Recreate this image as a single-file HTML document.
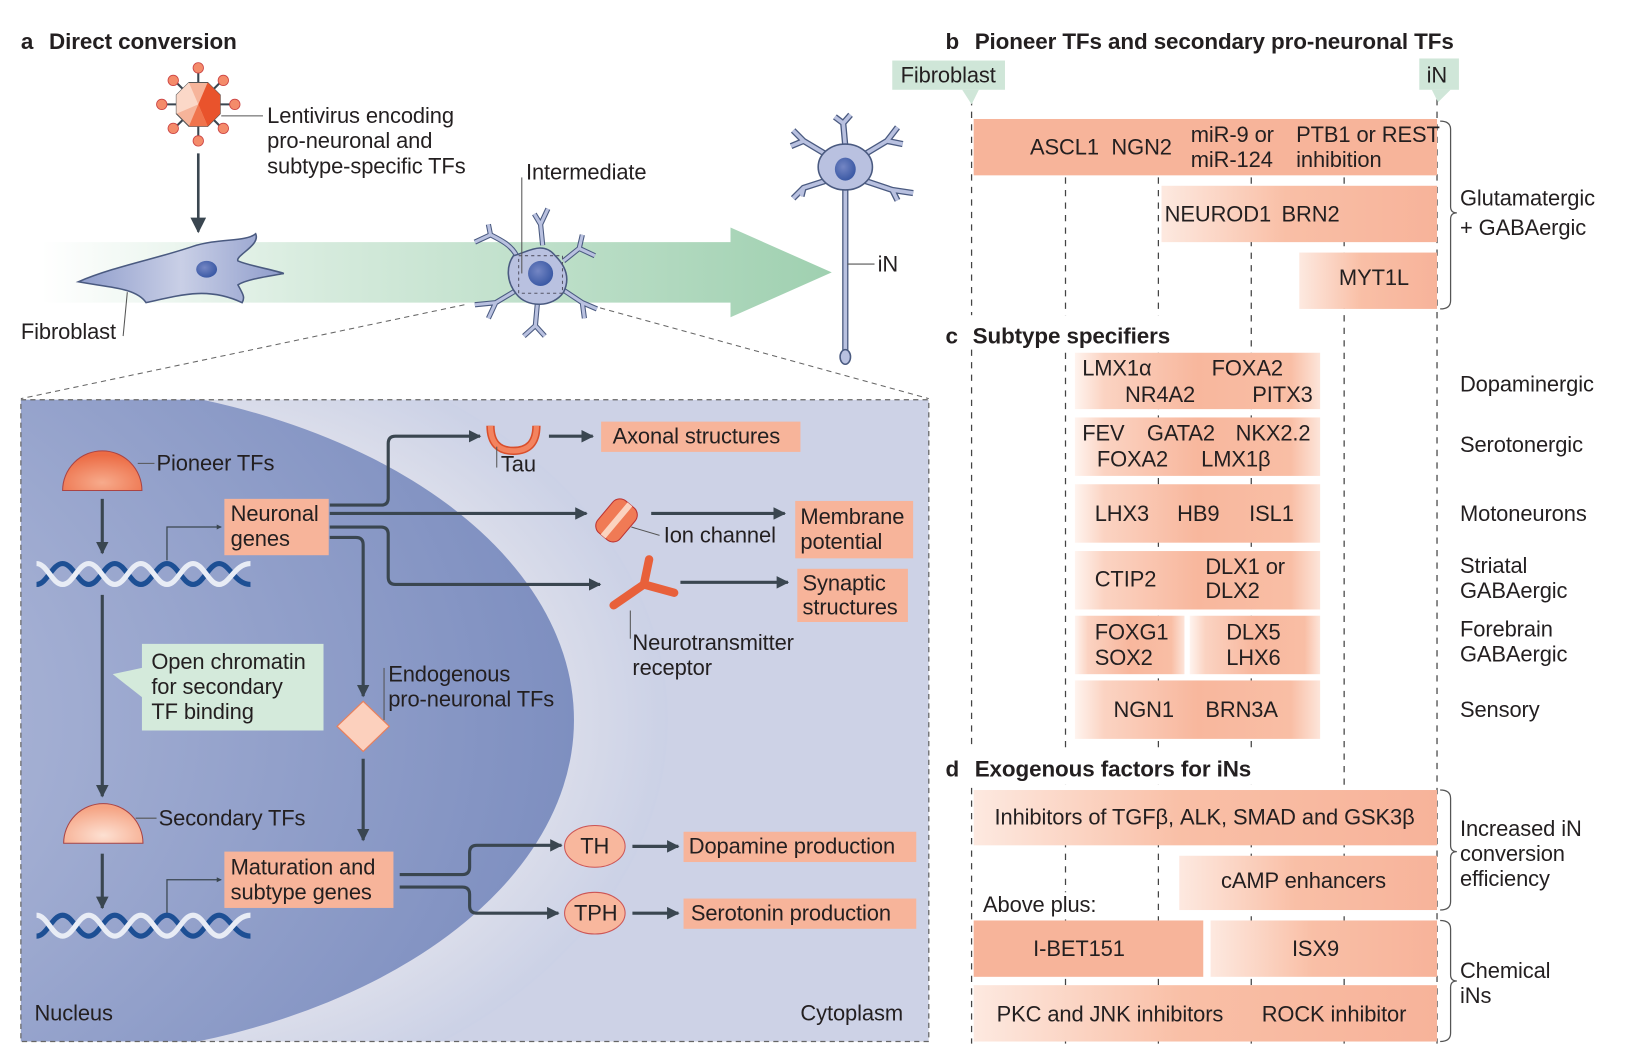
<!DOCTYPE html>
<html><head><meta charset="utf-8"><style>
html,body{margin:0;padding:0;background:#fff;overflow:hidden;width:1628px;height:1062px;}
svg{display:block;}
text{font-family:"Liberation Sans",sans-serif;font-size:21px;fill:#231f20;letter-spacing:-0.1px;}
.b{font-weight:bold;font-size:21.5px;}
</style></head><body>
<svg width="1628" height="1062" viewBox="0 0 1560 1017.6" xmlns="http://www.w3.org/2000/svg">
<defs>
<linearGradient id="grn" x1="0" x2="1"><stop offset="0" stop-color="#fff"/><stop offset="0.35" stop-color="#d6ebdd"/><stop offset="1" stop-color="#9fd0b0"/></linearGradient>
<linearGradient id="sal" x1="0" x2="1"><stop offset="0" stop-color="#fde9e0"/><stop offset="0.45" stop-color="#f9bfa6"/><stop offset="1" stop-color="#f7b39a"/></linearGradient>
<linearGradient id="sal2" x1="0" x2="1"><stop offset="0" stop-color="#fff4ef"/><stop offset="0.12" stop-color="#fbd3c2"/><stop offset="0.5" stop-color="#f8b79d"/><stop offset="0.88" stop-color="#f9bea5"/><stop offset="1" stop-color="#fde5da"/></linearGradient>
<linearGradient id="cell" x1="0" x2="1"><stop offset="0" stop-color="#8e9ccb"/><stop offset="0.5" stop-color="#c9cfe6"/><stop offset="1" stop-color="#8e9ccb"/></linearGradient>
<radialGradient id="nuc" cx="0" cy="0.5" r="1"><stop offset="0" stop-color="#c9cfe6"/><stop offset="1" stop-color="#7e8fc0"/></radialGradient>
<radialGradient id="cyto" cx="0.5" cy="0.5" r="0.5"><stop offset="0.7" stop-color="#e2e3ec"/><stop offset="1" stop-color="#cbd1e6"/></radialGradient>
<radialGradient id="dome" cx="0.5" cy="0.8" r="0.7"><stop offset="0" stop-color="#f7ab8c"/><stop offset="1" stop-color="#ec6c45"/></radialGradient>
<radialGradient id="dome2" cx="0.5" cy="0.8" r="0.7"><stop offset="0" stop-color="#fde0d2"/><stop offset="1" stop-color="#f5a484"/></radialGradient>
<radialGradient id="nb" cx="0.4" cy="0.4" r="0.6"><stop offset="0" stop-color="#7486c4"/><stop offset="1" stop-color="#3c5aa5"/></radialGradient>
<marker id="ah" viewBox="0 0 10 10" refX="9" refY="5" markerWidth="4" markerHeight="4" orient="auto"><path d="M0,0 L10,5 L0,10 z" fill="#3a4650"/></marker>
<marker id="ahs" viewBox="0 0 10 10" refX="9" refY="5" markerWidth="6" markerHeight="6" orient="auto"><path d="M0,0 L10,5 L0,10 z" fill="#3a4650"/></marker>
<clipPath id="panel"><rect x="20" y="383" width="870" height="615"/></clipPath>
</defs>

<text x="20" y="47" class="b">a</text><text x="47" y="47" class="b">Direct conversion</text>

<path d="M40,232 H700 V218 L797,261 L700,304 V290 H40 Z" fill="url(#grn)"/>

<g stroke="#3a4650" stroke-width="2">
<line x1="190" y1="65" x2="190" y2="135"/><line x1="155" y1="100" x2="225" y2="100"/>
<line x1="166" y1="76" x2="214" y2="124"/><line x1="214" y1="76" x2="166" y2="124"/>
</g>
<g fill="#f48b6a" stroke="#c44" stroke-width="0.8">
<circle cx="190" cy="65" r="5"/><circle cx="190" cy="135" r="5"/><circle cx="155" cy="100" r="5"/><circle cx="225" cy="100" r="5"/>
<circle cx="166" cy="77" r="5"/><circle cx="214" cy="77" r="5"/><circle cx="166" cy="123" r="5"/><circle cx="214" cy="123" r="5"/>
</g>
<polygon points="181,79 199,79 211,91 211,109 199,121 181,121 169,109 169,91" fill="#f6b49a" stroke="#555" stroke-width="1"/>
<polygon points="199,79 211,91 211,109 199,121 190,100" fill="#e9532c"/>
<polygon points="181,121 199,121 190,100" fill="#f0744c"/>
<polygon points="169,91 181,79 190,100 169,109" fill="#fbd8c8"/>
<line x1="212" y1="111" x2="252" y2="111" stroke="#555" stroke-width="1"/>
<text x="256" y="118">Lentivirus encoding</text>
<text x="256" y="142">pro-neuronal and</text>
<text x="256" y="166">subtype-specific TFs</text>
<line x1="190" y1="147" x2="190" y2="222" stroke="#3a4650" stroke-width="2.5" marker-end="url(#ahs)"/>

<path d="M75,270 C110,255 150,248 185,236 C210,228 235,232 245,224 C250,235 225,245 228,250 C240,255 260,258 272,262 C255,265 235,268 228,273 C233,282 235,285 232,290 C200,275 175,282 140,290 C130,275 100,275 75,270 Z" fill="url(#cell)" stroke="#4a5a80" stroke-width="1.5"/>
<ellipse cx="198" cy="258" rx="10" ry="8" fill="url(#nb)"/>
<line x1="118" y1="322" x2="122" y2="280" stroke="#555" stroke-width="1"/>
<text x="20" y="325">Fibroblast</text>

<g stroke="#4a5a80" stroke-width="5" fill="none">
<path d="M495,245 C490,235 480,230 470,225 M470,225 L455,232 M470,225 L468,215"/>
<path d="M520,235 L518,215 L512,205 M518,215 L525,200"/>
<path d="M540,250 L555,238 L558,225 M555,238 L570,245"/>
<path d="M540,278 L558,290 L572,296 M558,290 L560,305"/>
<path d="M515,290 L513,312 L502,322 M513,312 L522,322"/>
<path d="M495,278 L475,290 L455,292 M475,290 L468,305"/>
</g>
<g fill="none" stroke="#b9c1e0" stroke-width="3">
<path d="M495,245 C490,235 480,230 470,225 M470,225 L455,232 M470,225 L468,215"/>
<path d="M520,235 L518,215 L512,205 M518,215 L525,200"/>
<path d="M540,250 L555,238 L558,225 M555,238 L570,245"/>
<path d="M540,278 L558,290 L572,296 M558,290 L560,305"/>
<path d="M515,290 L513,312 L502,322 M513,312 L522,322"/>
<path d="M495,278 L475,290 L455,292 M475,290 L468,305"/>
</g>
<path d="M492,245 C505,242 520,230 532,245 C545,258 545,270 540,280 C530,295 505,295 495,282 C485,270 485,255 492,245 Z" fill="#b9c1e0" stroke="#4a5a80" stroke-width="1.5"/>
<rect x="497" y="245" width="42" height="36" fill="none" stroke="#556" stroke-dasharray="3,3" stroke-width="1"/>
<ellipse cx="518" cy="262" rx="12" ry="12" fill="url(#nb)"/>
<line x1="500" y1="170" x2="500" y2="262" stroke="#555" stroke-width="1"/>
<text x="504" y="172">Intermediate</text>

<g fill="none" stroke="#4a5a80" stroke-width="6">
<path d="M795,150 L770,135 L760,125 M770,135 L758,140"/>
<path d="M810,140 L808,118 L800,112 M808,118 L815,110"/>
<path d="M825,150 L850,135 L860,122 M850,135 L865,138"/>
<path d="M825,172 L855,182 L875,185 M855,182 L860,192"/>
<path d="M795,172 L770,180 L760,190 M770,180 L768,188"/>
<path d="M810,180 L810,340"/>
</g>
<g fill="none" stroke="#b9c1e0" stroke-width="3.5">
<path d="M795,150 L770,135 L760,125 M770,135 L758,140"/>
<path d="M810,140 L808,118 L800,112 M808,118 L815,110"/>
<path d="M825,150 L850,135 L860,122 M850,135 L865,138"/>
<path d="M825,172 L855,182 L875,185 M855,182 L860,192"/>
<path d="M795,172 L770,180 L760,190 M770,180 L768,188"/>
<path d="M810,180 L810,340"/>
</g>
<ellipse cx="810" cy="160" rx="26" ry="22" fill="#b9c1e0" stroke="#4a5a80" stroke-width="1.5"/>
<ellipse cx="810" cy="162" rx="10" ry="11" fill="url(#nb)"/>
<ellipse cx="810" cy="342" rx="5" ry="7" fill="#b9c1e0" stroke="#4a5a80" stroke-width="1.5"/>
<line x1="812" y1="253" x2="838" y2="253" stroke="#555" stroke-width="1"/>
<text x="841" y="260">iN</text>

<line x1="445" y1="292" x2="20" y2="382" stroke="#666" stroke-dasharray="5,4" stroke-width="1"/>
<line x1="575" y1="295" x2="890" y2="382" stroke="#666" stroke-dasharray="5,4" stroke-width="1"/>

<g clip-path="url(#panel)">
<rect x="20" y="383" width="870" height="615" fill="#cdd2e6"/>
<ellipse cx="120" cy="690" rx="520" ry="380" fill="url(#cyto)"/>
<ellipse cx="20" cy="690" rx="530" ry="325" fill="url(#nuc)"/>
</g>
<rect x="20" y="383" width="870" height="615" fill="none" stroke="#666" stroke-dasharray="5,4" stroke-width="1.2"/>

<g stroke="#3a4650" stroke-width="3" fill="none">
<line x1="98" y1="478" x2="98" y2="530" marker-end="url(#ah)"/>
<line x1="98" y1="570" x2="98" y2="763" marker-end="url(#ah)"/>
<line x1="98" y1="818" x2="98" y2="870" marker-end="url(#ah)"/>
<path d="M316,484 H365 Q372,484 372,477 V425 Q372,418 379,418 H460" marker-end="url(#ah)"/>
<line x1="316" y1="492" x2="562" y2="492" marker-end="url(#ah)"/>
<path d="M316,505 H365 Q372,505 372,512 V553 Q372,560 379,560 H575" marker-end="url(#ah)"/>
<path d="M316,515 H341 Q348,515 348,522 V667" marker-end="url(#ah)"/>
<line x1="348" y1="727" x2="348" y2="805" marker-end="url(#ah)"/>
<line x1="526" y1="418" x2="568" y2="418" marker-end="url(#ah)"/>
<line x1="624" y1="492" x2="752" y2="492" marker-end="url(#ah)"/>
<line x1="652" y1="558" x2="755" y2="558" marker-end="url(#ah)"/>
<path d="M383,838 H443 Q450,838 450,831 V817 Q450,810 457,810 H538" marker-end="url(#ah)"/>
<path d="M383,850 H443 Q450,850 450,857 V868 Q450,875 457,875 H535" marker-end="url(#ah)"/>
<line x1="606" y1="811" x2="650" y2="811" marker-end="url(#ah)"/>
<line x1="606" y1="875" x2="650" y2="875" marker-end="url(#ah)"/>
</g>
<g stroke="#3a4650" stroke-width="1.2" fill="none">
<path d="M160,537 V505 H212" marker-end="url(#ah)"/>
<path d="M160,877 V843 H212" marker-end="url(#ah)"/>
</g>

<path d="M60,470 A38,38 0 0 1 136,470 Z" fill="url(#dome)" stroke="#a44" stroke-width="1"/>
<line x1="132" y1="444" x2="148" y2="444" stroke="#555" stroke-width="1"/>
<text x="150" y="451">Pioneer TFs</text>
<path d="M61,808 A38,38 0 0 1 137,808 Z" fill="url(#dome2)" stroke="#a44" stroke-width="1"/>
<line x1="130" y1="784" x2="150" y2="784" stroke="#555" stroke-width="1"/>
<text x="152" y="791">Secondary TFs</text>

<g fill="none" stroke-width="5">
<path d="M35,560 C45,560 50,540 60,540 S75,560 85,560 S100,540 110,540 S125,560 135,560 S150,540 160,540 S175,560 185,560 S200,540 210,540 S225,560 240,560" stroke="#1d4f94"/>
<path d="M35,540 C45,540 50,560 60,560 S75,540 85,540 S100,560 110,560 S125,540 135,540 S150,560 160,560 S175,540 185,540 S200,560 210,560 S225,540 240,540" stroke="#e8ecf5"/>
</g>
<g transform="translate(0,337)" fill="none" stroke-width="5">
<path d="M35,560 C45,560 50,540 60,540 S75,560 85,560 S100,540 110,540 S125,560 135,560 S150,540 160,540 S175,560 185,560 S200,540 210,540 S225,560 240,560" stroke="#1d4f94"/>
<path d="M35,540 C45,540 50,560 60,560 S75,540 85,540 S100,560 110,560 S125,540 135,540 S150,560 160,560 S175,540 185,540 S200,560 210,560 S225,540 240,540" stroke="#e8ecf5"/>
</g>

<g fill="#f7b49a">
<rect x="215" y="478" width="100" height="54"/>
<rect x="215" y="816" width="162" height="54"/>
<rect x="576" y="404" width="191" height="29"/>
<rect x="762" y="480" width="113" height="55"/>
<rect x="764" y="545" width="106" height="51"/>
<rect x="655" y="797" width="223" height="29"/>
<rect x="655" y="861" width="223" height="29"/>
</g>
<text x="221" y="499">Neuronal</text><text x="221" y="523">genes</text>
<text x="221" y="838">Maturation and</text><text x="221" y="862">subtype genes</text>
<text x="587" y="425">Axonal structures</text>
<text x="767" y="502">Membrane</text><text x="767" y="526">potential</text>
<text x="769" y="566">Synaptic</text><text x="769" y="589">structures</text>
<text x="660" y="818">Dopamine production</text>
<text x="662" y="882">Serotonin production</text>

<path d="M470,408 Q470,432 492,432 Q514,432 514,408" fill="none" stroke="#d94f2c" stroke-width="8"/>
<path d="M470,408 Q470,432 492,432 Q514,432 514,408" fill="none" stroke="#f3835f" stroke-width="5"/>
<line x1="476" y1="428" x2="476" y2="448" stroke="#555" stroke-width="1"/>
<text x="480" y="452">Tau</text>

<g transform="rotate(-50 590 498)">
<rect x="570" y="485" width="40" height="28" rx="9" fill="#f07a55" stroke="#b33" stroke-width="1"/>
<rect x="570" y="496" width="40" height="6" fill="#fbd3c0"/>
</g>
<line x1="605" y1="505" x2="632" y2="513" stroke="#555" stroke-width="1"/>
<text x="636" y="520">Ion channel</text>

<g stroke="#e8603a" stroke-width="8" stroke-linecap="round" fill="none">
<path d="M588,580 L617,560 L622,536 M617,560 L646,568"/>
</g>
<line x1="604" y1="585" x2="604" y2="612" stroke="#555" stroke-width="1"/>
<text x="606" y="623">Neurotransmitter</text>
<text x="606" y="647">receptor</text>

<polygon points="348,672 373,696 348,720 323,696" fill="#fcd0bd" stroke="#e8805d" stroke-width="1.2"/>
<line x1="368" y1="640" x2="368" y2="690" stroke="#555" stroke-width="1"/>
<text x="372" y="653">Endogenous</text>
<text x="372" y="677">pro-neuronal TFs</text>

<polygon points="136,617 310,617 310,700 136,700 136,668 108,646 136,640" fill="#d4eadb"/>
<text x="145" y="641">Open chromatin</text>
<text x="145" y="665">for secondary</text>
<text x="145" y="689">TF binding</text>

<ellipse cx="570" cy="811" rx="29" ry="20" fill="#f8b79d" stroke="#c55" stroke-width="1"/>
<text x="556" y="818">TH</text>
<ellipse cx="570" cy="875" rx="29" ry="20" fill="#f8b79d" stroke="#c55" stroke-width="1"/>
<text x="550" y="882">TPH</text>

<text x="33" y="978">Nucleus</text>
<text x="767" y="978">Cytoplasm</text>

<g stroke="#444" stroke-width="1.2" stroke-dasharray="6,6">
<line x1="931" y1="95" x2="931" y2="1000"/>
<line x1="1021" y1="170" x2="1021" y2="1000"/>
<line x1="1110" y1="170" x2="1110" y2="1000"/>
<line x1="1199" y1="170" x2="1199" y2="1000"/>
<line x1="1288" y1="170" x2="1288" y2="1000"/>
<line x1="1377" y1="95" x2="1377" y2="1000"/>
</g>
<rect x="905" y="302" width="220" height="30" fill="#fff"/>
<rect x="905" y="718" width="300" height="34" fill="#fff"/>

<text x="906" y="47" class="b">b</text><text x="934" y="47" class="b">Pioneer TFs and secondary pro-neuronal TFs</text>
<rect x="855" y="58" width="108" height="28" fill="#cfe6d8"/><polygon points="922,86 938,86 931,100" fill="#cfe6d8"/>
<text x="863" y="79">Fibroblast</text>
<rect x="1360" y="56" width="38" height="30" fill="#cfe6d8"/><polygon points="1372,86 1390,86 1378,98" fill="#cfe6d8"/>
<text x="1367" y="79">iN</text>

<rect x="933" y="114" width="444" height="54" fill="#f7b49a"/>
<text x="987" y="148">ASCL1</text><text x="1065" y="148">NGN2</text>
<text x="1141" y="136">miR-9 or</text><text x="1141" y="160">miR-124</text>
<text x="1242" y="136">PTB1 or REST</text><text x="1242" y="160">inhibition</text>
<rect x="1113" y="178" width="264" height="54" fill="url(#sal)"/>
<text x="1116" y="212">NEUROD1</text><text x="1228" y="212">BRN2</text>
<rect x="1245" y="242" width="132" height="54" fill="url(#sal)"/>
<text x="1283" y="273">MYT1L</text>

<g fill="none" stroke="#555" stroke-width="1.2">
<path d="M1380,116 Q1390,116 1390,124 V198 Q1390,204 1396,204 Q1390,204 1390,210 V288 Q1390,296 1380,296"/>
<path d="M1380,757 Q1390,757 1390,765 V810 Q1390,816 1396,816 Q1390,816 1390,822 V864 Q1390,872 1380,872"/>
<path d="M1380,882 Q1390,882 1390,890 V934 Q1390,940 1396,940 Q1390,940 1390,946 V990 Q1390,998 1380,998"/>
</g>
<text x="1399" y="197">Glutamatergic</text><text x="1399" y="225">+ GABAergic</text>

<text x="906" y="329" class="b">c</text><text x="932" y="329" class="b">Subtype specifiers</text>
<g fill="url(#sal2)">
<rect x="1030" y="338" width="235" height="54"/>
<rect x="1030" y="400" width="235" height="56"/>
<rect x="1030" y="464" width="235" height="56"/>
<rect x="1030" y="528" width="235" height="56"/>
<rect x="1030" y="590" width="105" height="56"/>
<rect x="1140" y="590" width="125" height="56"/>
<rect x="1030" y="652" width="235" height="56"/>
</g>
<text x="1037" y="360">LMX1α</text><text x="1161" y="360">FOXA2</text>
<text x="1078" y="385">NR4A2</text><text x="1200" y="385">PITX3</text>
<text x="1037" y="422">FEV</text><text x="1099" y="422">GATA2</text><text x="1184" y="422">NKX2.2</text>
<text x="1051" y="447">FOXA2</text><text x="1151" y="447">LMX1β</text>
<text x="1049" y="499">LHX3</text><text x="1128" y="499">HB9</text><text x="1197" y="499">ISL1</text>
<text x="1049" y="562">CTIP2</text><text x="1155" y="550">DLX1 or</text><text x="1155" y="573">DLX2</text>
<text x="1049" y="613">FOXG1</text><text x="1049" y="637">SOX2</text>
<text x="1175" y="613">DLX5</text><text x="1175" y="637">LHX6</text>
<text x="1067" y="687">NGN1</text><text x="1155" y="687">BRN3A</text>
<text x="1399" y="375">Dopaminergic</text>
<text x="1399" y="433">Serotonergic</text>
<text x="1399" y="499">Motoneurons</text>
<text x="1399" y="549">Striatal</text><text x="1399" y="573">GABAergic</text>
<text x="1399" y="610">Forebrain</text><text x="1399" y="634">GABAergic</text>
<text x="1399" y="687">Sensory</text>

<text x="906" y="744" class="b">d</text><text x="934" y="744" class="b">Exogenous factors for iNs</text>
<rect x="933" y="757" width="444" height="53" fill="url(#sal)"/>
<text x="953" y="790">Inhibitors of TGFβ, ALK, SMAD and GSK3β</text>
<rect x="1130" y="820" width="247" height="52" fill="url(#sal)"/>
<text x="1170" y="851">cAMP enhancers</text>
<rect x="935" y="855" width="135" height="26" fill="#fff"/>
<text x="942" y="874">Above plus:</text>
<rect x="933" y="882" width="220" height="54" fill="#f7b49a"/>
<text x="990" y="916">I-BET151</text>
<rect x="1160" y="882" width="217" height="54" fill="url(#sal)"/>
<text x="1238" y="916">ISX9</text>
<rect x="933" y="944" width="444" height="54" fill="url(#sal)"/>
<text x="955" y="979">PKC and JNK inhibitors</text><text x="1209" y="979">ROCK inhibitor</text>
<text x="1399" y="801">Increased iN</text><text x="1399" y="825">conversion</text><text x="1399" y="849">efficiency</text>
<text x="1399" y="937">Chemical</text><text x="1399" y="961">iNs</text>
</svg>
</body></html>
